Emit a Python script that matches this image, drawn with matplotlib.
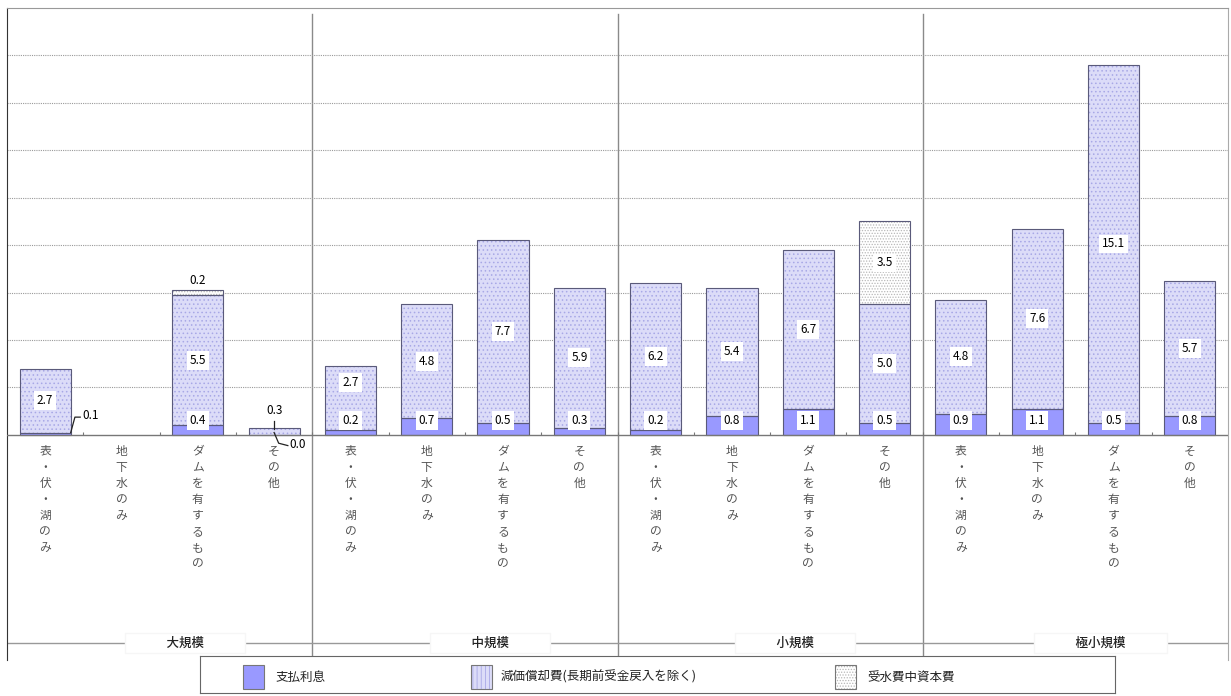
"""Stacked capital-cost bars by scale and water source (recreated chart)."""

import matplotlib.pyplot as plt
import numpy as np
from matplotlib.patches import Rectangle

plt.rcParams["font.family"] = ["Noto Sans CJK JP", "DejaVu Sans"]
plt.rcParams["hatch.linewidth"] = 0.6

GROUPS = ["大規模", "中規模", "小規模", "極小規模"]
SOURCES = ["表・伏・湖のみ", "地下水のみ", "ダムを有するもの", "その他"]

# one value per bar, 4 sources x 4 groups, in reading order
interest = [0.1, 0.0, 0.4, 0.0,
            0.2, 0.7, 0.5, 0.3,
            0.2, 0.8, 1.1, 0.5,
            0.9, 1.1, 0.5, 0.8]
depreciation = [2.7, 0.0, 5.5, 0.3,
                2.7, 4.8, 7.7, 5.9,
                6.2, 5.4, 6.7, 5.0,
                4.8, 7.6, 15.1, 5.7]
bulk_water = [0.0, 0.0, 0.2, 0.0,
              0.0, 0.0, 0.0, 0.0,
              0.0, 0.0, 0.0, 3.5,
              0.0, 0.0, 0.0, 0.0]

LEGEND = ["支払利息", "減価償却費(長期前受金戻入を除く)", "受水費中資本費"]

COLORS = {
    "interest": "#9999FF",
    "dep_face": "#DCDCF8",
    "dep_hatch": "#A8A8E6",
    "bulk_face": "#FFFFFF",
    "bulk_hatch": "#B8B8B8",
    "edge": "#5A5A7A",
    "grid": "#9A9A9A",
    "text": "#555555",
}

BAR_W = 0.67
YMAX = 18
YMIN = -9.49
BOX = dict(boxstyle="square,pad=0.25", facecolor="white", edgecolor="none")
VAL_FS = 8.5


def _bar(ax, x, height, bottom, face, hatch=None, hatch_color=None):
    if hatch:
        ax.bar(x, height, BAR_W, bottom=bottom, color=face, hatch=hatch,
               edgecolor=hatch_color, linewidth=0, zorder=2)
    else:
        ax.bar(x, height, BAR_W, bottom=bottom, color=face, linewidth=0, zorder=2)
    ax.bar(x, height, BAR_W, bottom=bottom, fill=False,
           edgecolor=COLORS["edge"], linewidth=0.8, zorder=3)


fig = plt.figure(figsize=(12.31, 6.96), dpi=100)
ax = fig.add_axes([7 / 1231, 36 / 696, 1221 / 1231, 652 / 696])

n = len(interest)
x = np.arange(n)
interest = np.asarray(interest)
depreciation = np.asarray(depreciation)
bulk_water = np.asarray(bulk_water)

ax.set_xlim(-0.5, n - 0.5)
ax.set_ylim(YMIN, YMAX)
ax.set_yticks(np.arange(2, YMAX, 2))
ax.set_xticks([])
ax.tick_params(axis="y", length=0, labelleft=False)
ax.grid(axis="y", color=COLORS["grid"], linestyle=(0, (1, 1)), linewidth=0.8, zorder=0)
ax.axhline(0, color="#777777", linewidth=1.0, zorder=4)
ax.vlines(np.arange(0.5, n - 1, 1), 0, 0.13, color="#777777", linewidth=0.8, zorder=4)
for spine, color in (("left", "#333333"), ("top", "#999999"), ("right", "#AAAAAA")):
    ax.spines[spine].set_color(color)
ax.spines["bottom"].set_visible(False)

for boundary in np.arange(3.5, n - 1, 4):
    ax.axvline(boundary, ymin=0, ymax=1 - 6 / 652, color="#8A8A8A", linewidth=1.0, zorder=1)

# bars
for i in x:
    if interest[i] + depreciation[i] + bulk_water[i] == 0:
        continue
    if interest[i] > 0:
        _bar(ax, i, interest[i], 0, COLORS["interest"])
    if depreciation[i] > 0:
        _bar(ax, i, depreciation[i], interest[i], COLORS["dep_face"], "....", COLORS["dep_hatch"])
    if bulk_water[i] > 0:
        _bar(ax, i, bulk_water[i], interest[i] + depreciation[i],
             COLORS["bulk_face"], "......", COLORS["bulk_hatch"])

# value labels
dep_shift = {4: 0.65}
for i in x:
    total = interest[i] + depreciation[i] + bulk_water[i]
    if total == 0:
        continue
    if depreciation[i] >= 1:
        y = interest[i] + depreciation[i] / 2 + dep_shift.get(i, 0)
        ax.text(i, y, f"{depreciation[i]:.1f}", ha="center", va="center",
                fontsize=VAL_FS, bbox=BOX, zorder=5)
        if interest[i] >= 0.2:
            ax.text(i, 0.6, f"{interest[i]:.1f}", ha="center", va="center",
                    fontsize=VAL_FS, bbox=BOX, zorder=5)
    if bulk_water[i] >= 1:
        y = interest[i] + depreciation[i] + bulk_water[i] / 2
        ax.text(i, y, f"{bulk_water[i]:.1f}", ha="center", va="center",
                fontsize=VAL_FS, bbox=BOX, zorder=5)

line_kw = dict(color="#222222", linewidth=0.9, zorder=5)
# 大規模 / 表・伏・湖のみ : interest label outside to the right
ax.plot([BAR_W / 2, 0.39, 0.46], [interest[0], 0.75, 0.75], **line_kw)
ax.text(0.49, 0.8, f"{interest[0]:.1f}", ha="left", va="center", fontsize=VAL_FS, zorder=5)
# 大規模 / ダム : bulk water above
ax.text(2, interest[2] + depreciation[2] + bulk_water[2] + 0.42, f"{bulk_water[2]:.1f}",
        ha="center", va="center", fontsize=VAL_FS, zorder=5)
# 大規模 / その他 : depreciation above, interest below right
ax.plot([3, 3], [depreciation[3] - 0.05, 0.6], **line_kw)
ax.text(3, 1.05, f"{depreciation[3]:.1f}", ha="center", va="center", fontsize=VAL_FS, zorder=5)
ax.plot([3.0, 3.06, 3.18], [0.1, -0.35, -0.45], **line_kw)
ax.text(3.2, -0.42, f"{interest[3]:.1f}", ha="left", va="center", fontsize=VAL_FS, zorder=5)

# vertical category labels
for i in x:
    ax.text(i, -0.42, "\n".join(SOURCES[i % 4]), ha="center", va="top",
            fontsize=8.5, color=COLORS["text"], linespacing=1.3)

# group labels on the bottom rule
ax.axhline(-8.77, color="#999999", linewidth=1.0, zorder=1)
pad = "\u3000" * 3
for g, name in enumerate(GROUPS):
    ax.text(4 * g + 1.83, -8.77, f"{pad}{name}{pad}", ha="center", va="center",
            fontsize=9, color="#222222", fontweight="medium", zorder=5,
            bbox=dict(boxstyle="square,pad=0.3", facecolor="white", edgecolor="#F6F6F6"))

# legend box
lax = fig.add_axes([200 / 1231, 3 / 696, 915 / 1231, 37 / 696])
lax.set_xlim(0, 1)
lax.set_ylim(0, 1)
lax.set_xticks([])
lax.set_yticks([])
for spine in lax.spines.values():
    spine.set_color("#666666")
legend_styles = [
    (COLORS["interest"], None, None),
    (COLORS["dep_face"], "||||", COLORS["dep_hatch"]),
    (COLORS["bulk_face"], "......", COLORS["bulk_hatch"]),
]
patch_x = [0.047, 0.296, 0.694]
text_x = [0.082, 0.328, 0.729]
for (face, hatch, hcolor), px, tx, label in zip(legend_styles, patch_x, text_x, LEGEND):
    lax.add_patch(Rectangle((px, 0.1), 0.023, 0.66, facecolor=face, hatch=hatch,
                            edgecolor=hcolor if hatch else "none", linewidth=0))
    lax.add_patch(Rectangle((px, 0.1), 0.023, 0.66, fill=False,
                            edgecolor="#777777", linewidth=0.8))
    lax.text(tx, 0.43, label, ha="left", va="center", fontsize=9, color="#222222")

fig.savefig("out.png", dpi=100)
